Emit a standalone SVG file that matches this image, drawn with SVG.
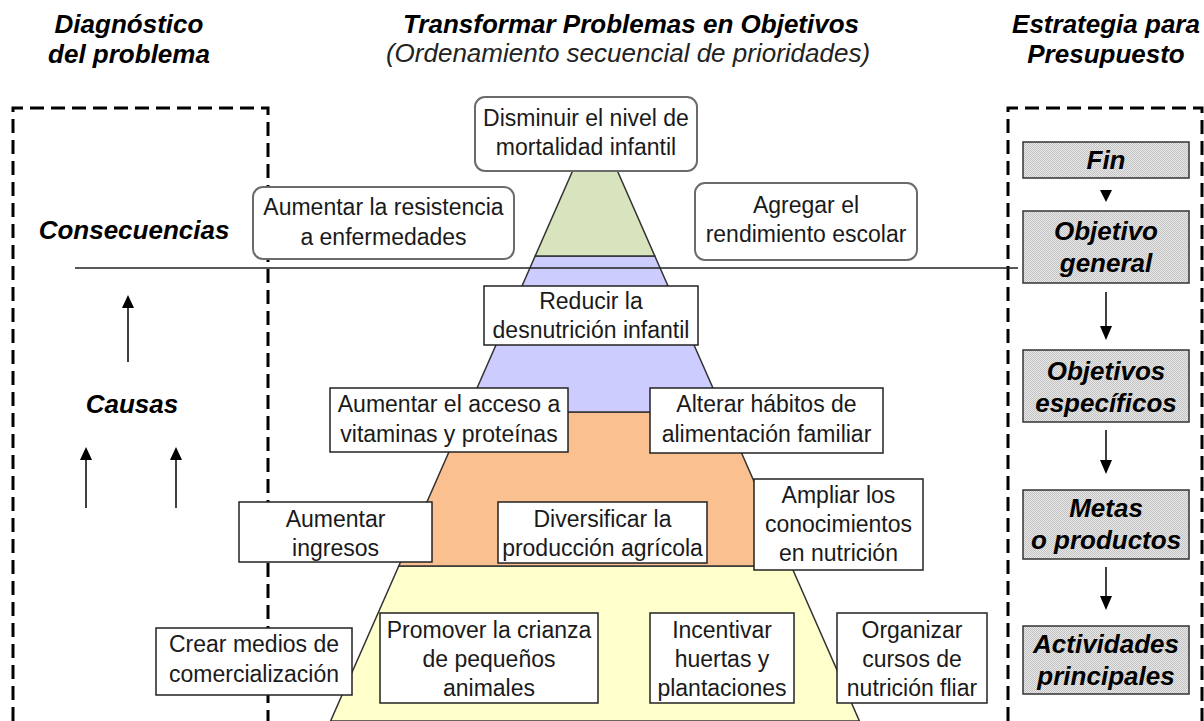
<svg xmlns="http://www.w3.org/2000/svg" width="1204" height="721" viewBox="0 0 1204 721">
<defs>
<pattern id="dots" width="2" height="2" patternUnits="userSpaceOnUse">
<rect width="2" height="2" fill="#e8e8e8"/>
<rect width="1" height="1" fill="#c2c2c2"/>
<rect x="1" y="1" width="1" height="1" fill="#c2c2c2"/>
</pattern>
</defs>
<style>
.title{font-family:"Liberation Sans",Arial,sans-serif;font-size:26px;font-weight:bold;font-style:italic;fill:#000;text-anchor:middle}
.sub{font-family:"Liberation Sans",Arial,sans-serif;font-size:26px;font-style:italic;fill:#222;text-anchor:middle}
.t{font-family:"Liberation Sans",Arial,sans-serif;font-size:23px;fill:#1a1a1a;text-anchor:middle}
.rbox{fill:#fff;stroke:#6b6b6b;stroke-width:2}
.sbox{fill:#fff;stroke:#222;stroke-width:1.5}
.gbox{fill:url(#dots);stroke:#333;stroke-width:1.5}
.dash{fill:none;stroke:#000;stroke-width:3;stroke-dasharray:14 7}
.lvl{stroke:#333;stroke-width:1.5}
.arr{stroke:#000;stroke-width:1.5;fill:none}
.head{fill:#000}
</style>

<!-- titles -->
<g id="titles">
<text class="title" x="129" y="33">Diagnóstico</text>
<text class="title" x="129" y="63">del problema</text>
<text class="title" x="631" y="33">Transformar Problemas en Objetivos</text>
<text class="sub" x="628" y="62">(Ordenamiento secuencial de prioridades)</text>
<text class="title" x="1106" y="33">Estrategia para</text>
<text class="title" x="1106" y="63">Presupuesto</text>
</g>

<!-- pyramid -->
<g id="pyramid">
<polygon class="lvl" fill="#ffffcc" points="398.8,566 791.2,566 859.4,721 330.6,721"/>
<polygon class="lvl" fill="#fac090" points="466.5,412 723.5,412 791.2,566 398.8,566"/>
<polygon class="lvl" fill="#ccccff" points="535.2,256 654.8,256 723.5,412 466.5,412"/>
<polygon class="lvl" fill="#d7e4bd" points="573,170 617,170 654.8,256 535.2,256"/>
</g>

<!-- dashed frames -->
<g id="frames">
<path class="dash" d="M13,721 V108 H268 V721"/>
<path class="dash" d="M1008,721 V108 H1202 V721"/>
</g>

<!-- connectors -->
<g id="connectors">
<line x1="75" y1="268" x2="1018" y2="268" stroke="#222" stroke-width="1.5"/>
<line class="arr" x1="128" y1="362" x2="128" y2="306"/>
<polygon class="head" points="122,308 134,308 128,295"/>
<line class="arr" x1="86" y1="508" x2="86" y2="458"/>
<polygon class="head" points="80,460 92,460 86,447"/>
<line class="arr" x1="176" y1="508" x2="176" y2="458"/>
<polygon class="head" points="170,460 182,460 176,447"/>
<polygon class="head" points="1100,190 1112,190 1106,202"/>
<line class="arr" x1="1106" y1="292" x2="1106" y2="328"/>
<polygon class="head" points="1100,326 1112,326 1106,340"/>
<line class="arr" x1="1106" y1="430" x2="1106" y2="462"/>
<polygon class="head" points="1100,460 1112,460 1106,474"/>
<line class="arr" x1="1106" y1="567" x2="1106" y2="598"/>
<polygon class="head" points="1100,596 1112,596 1106,610"/>
</g>

<!-- left labels -->
<g id="left-labels">
<text class="title" x="134" y="239">Consecuencias</text>
<text class="title" x="132" y="413">Causas</text>
</g>

<!-- nodes -->
<g id="n-disminuir">
<rect class="rbox" x="475" y="97" width="222" height="74" rx="10"/>
<text class="t" x="586" y="126">Disminuir el nivel de</text>
<text class="t" x="586" y="155">mortalidad infantil</text>
</g>
<g id="n-resistencia">
<rect class="rbox" x="253" y="187" width="261" height="72" rx="10"/>
<text class="t" x="383.5" y="215">Aumentar la resistencia</text>
<text class="t" x="383.5" y="245">a enfermedades</text>
</g>
<g id="n-agregar">
<rect class="rbox" x="695" y="183" width="222" height="77" rx="10"/>
<text class="t" x="806" y="213">Agregar el</text>
<text class="t" x="806" y="242">rendimiento escolar</text>
</g>
<g id="n-reducir">
<rect class="sbox" x="484" y="286" width="214" height="59"/>
<text class="t" x="591" y="309">Reducir la</text>
<text class="t" x="591" y="338">desnutrición infantil</text>
</g>
<g id="n-acceso">
<rect class="sbox" x="330" y="388" width="238" height="64"/>
<text class="t" x="449" y="412">Aumentar el acceso a</text>
<text class="t" x="449" y="442">vitaminas y proteínas</text>
</g>
<g id="n-alterar">
<rect class="sbox" x="650" y="388" width="233" height="65"/>
<text class="t" x="766.5" y="412">Alterar hábitos de</text>
<text class="t" x="766.5" y="442">alimentación familiar</text>
</g>
<g id="n-ampliar">
<rect class="sbox" x="754" y="479" width="169" height="91"/>
<text class="t" x="838.5" y="503">Ampliar los</text>
<text class="t" x="838.5" y="532">conocimientos</text>
<text class="t" x="838.5" y="561">en nutrición</text>
</g>
<g id="n-ingresos">
<rect class="sbox" x="239" y="502" width="193" height="60"/>
<text class="t" x="335.5" y="527">Aumentar</text>
<text class="t" x="335.5" y="556">ingresos</text>
</g>
<g id="n-diversificar">
<rect class="sbox" x="498" y="502" width="209" height="61"/>
<text class="t" x="602.5" y="527">Diversificar la</text>
<text class="t" x="602.5" y="556">producción agrícola</text>
</g>
<g id="n-crear">
<rect class="sbox" x="156" y="628" width="196" height="67"/>
<text class="t" x="254" y="652">Crear medios de</text>
<text class="t" x="254" y="682">comercialización</text>
</g>
<g id="n-promover">
<rect class="sbox" x="380" y="613" width="218" height="90"/>
<text class="t" x="489" y="638">Promover la crianza</text>
<text class="t" x="489" y="667">de pequeños</text>
<text class="t" x="489" y="696">animales</text>
</g>
<g id="n-incentivar">
<rect class="sbox" x="650" y="613" width="144" height="90"/>
<text class="t" x="722" y="638">Incentivar</text>
<text class="t" x="722" y="667">huertas y</text>
<text class="t" x="722" y="696">plantaciones</text>
</g>
<g id="n-organizar">
<rect class="sbox" x="837" y="613" width="150" height="90"/>
<text class="t" x="912" y="638">Organizar</text>
<text class="t" x="912" y="667">cursos de</text>
<text class="t" x="912" y="696">nutrición fliar</text>
</g>

<!-- right column -->
<g id="n-fin">
<rect class="gbox" x="1023" y="142" width="166" height="36"/>
<text class="title" x="1106" y="169">Fin</text>
</g>
<g id="n-objetivo-general">
<rect class="gbox" x="1023" y="211" width="166" height="72"/>
<text class="title" x="1106" y="240">Objetivo</text>
<text class="title" x="1106" y="272">general</text>
</g>
<g id="n-objetivos-especificos">
<rect class="gbox" x="1023" y="350" width="166" height="72"/>
<text class="title" x="1106" y="380">Objetivos</text>
<text class="title" x="1106" y="412">específicos</text>
</g>
<g id="n-metas">
<rect class="gbox" x="1023" y="490" width="166" height="69"/>
<text class="title" x="1106" y="517">Metas</text>
<text class="title" x="1106" y="549">o productos</text>
</g>
<g id="n-actividades">
<rect class="gbox" x="1023" y="626" width="166" height="68"/>
<text class="title" x="1106" y="653">Actividades</text>
<text class="title" x="1106" y="685">principales</text>
</g>
</svg>
